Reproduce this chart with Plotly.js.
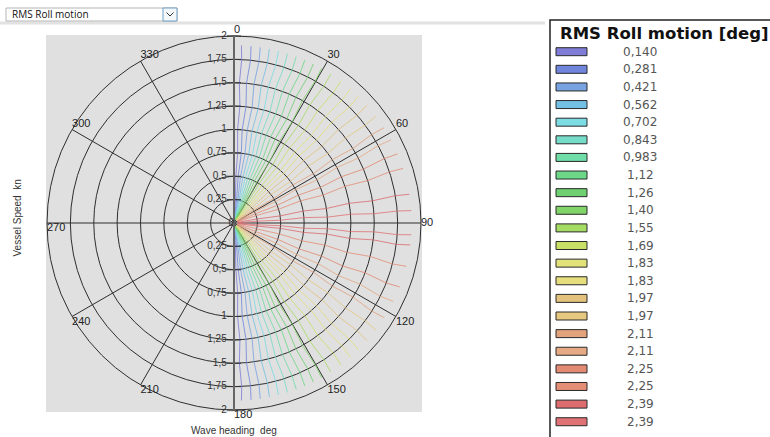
<!DOCTYPE html>
<html><head><meta charset="utf-8">
<script src="https://cdn.plot.ly/plotly-3.0.1.min.js"></script>
<style>html,body{margin:0;padding:0;background:#fff;}#chart{width:770px;height:437px;}</style>
</head><body><div id="chart"></div>
<script>
// ---------- data ----------
const speedGrid = [0.04, 0.25, 0.5, 0.75, 1.0, 1.25, 1.5, 1.75, 1.9];
const radialTicks = [0.25, 0.5, 0.75, 1, 1.25, 1.5, 1.75, 2];
const radialTickText = ['0,25', '0,5', '0,75', '1', '1,25', '1,5', '1,75', '2'];
const headingTicks = [0, 30, 60, 90, 120, 150, 180, 210, 240, 270, 300, 330];
const headingTickText = ['0', '30', '60', '90', '120', '150', '180', '210', '240', '270', '300', '330'];
const headingLabelPos = ['top right', 'top right', 'top right', 'middle right', 'bottom right', 'bottom right',
  'bottom right', 'bottom right', 'bottom right', 'bottom right', 'top right', 'top right'];
const levelLabels = ['0,140', '0,281', '0,421', '0,562', '0,702', '0,843', '0,983', '1,12', '1,26', '1,40', '1,55',
  '1,69', '1,83', '1,83', '1,97', '1,97', '2,11', '2,11', '2,25', '2,25', '2,39', '2,39'];
const levelColors = ['#7e7cd6', '#6f86dc', '#78a2e0', '#74c0e4', '#7cdce4', '#74dcc8', '#70dca8', '#6cd888',
  '#6ed070', '#80d468', '#a6dc64', '#c8e066', '#e2e27a', '#e6de7c', '#e2c27c', '#e6c880', '#e2a27c', '#e6aa84',
  '#e28a72', '#e48e76', '#dc6c70', '#e07276'];

// contour headings (deg) along speedGrid, heading 0-90 side
const hdgU01 = [1.5, 3.4, 2.3, 3.0, 2.2, 2.9, 2.2, 2.7, 2.4];
const hdgU02 = [3.5, 6.4, 5.1, 6.0, 5.0, 5.9, 5.1, 5.8, 5.5];
const hdgU03 = [5.5, 9.4, 8.0, 9.0, 8.1, 8.9, 8.2, 8.8, 8.5];
const hdgU04 = [8.0, 12.4, 11.0, 12.1, 11.1, 11.9, 11.2, 11.8, 11.5];
const hdgU05 = [10.5, 15.4, 14.0, 15.1, 14.1, 14.9, 14.2, 14.8, 14.5];
const hdgU06 = [13.0, 18.4, 17.0, 18.1, 17.1, 17.9, 17.2, 17.8, 17.5];
const hdgU07 = [16.0, 21.4, 20.0, 21.1, 20.1, 20.9, 20.2, 20.8, 20.5];
const hdgU08 = [19.0, 24.4, 23.0, 24.1, 23.1, 23.9, 23.2, 23.8, 23.5];
const hdgU09 = [22.0, 27.4, 26.0, 27.1, 26.1, 26.9, 26.2, 26.8, 26.5];
const hdgU10 = [25.0, 30.4, 29.0, 30.1, 29.1, 29.9, 29.2, 29.8, 29.5];
const hdgU11 = [28.5, 33.9, 32.5, 33.6, 32.6, 33.4, 32.7, 33.3, 33.0];
const hdgU12 = [32.5, 37.9, 36.5, 37.6, 36.6, 37.4, 36.7, 37.3, 37.0];
const hdgU13 = [37.0, 41.9, 40.5, 41.6, 40.6, 41.4, 40.7, 41.3, 41.0];
const hdgU14 = [41.0, 45.4, 44.0, 45.1, 44.1, 44.9, 44.2, 44.8, 44.5];
const hdgU15 = [46.0, 49.4, 48.0, 49.1, 48.1, 48.9, 48.2, 48.8, 48.5];
const hdgU16 = [51.0, 53.9, 52.5, 53.6, 52.6, 53.4, 52.7, 53.3, 53.0];
const hdgU17 = [56.0, 57.0, 58.3, 57.1, 58.1, 57.2, 57.9, 57.3, 57.6];
const hdgU18 = [61.0, 61.5, 62.8, 61.6, 62.6, 61.7, 62.4, 61.8, 62.1];
const hdgU19 = [66.0, 66.5, 67.8, 66.6, 67.6, 66.7, 67.4, 66.8, 67.1];
const hdgU20 = [71.5, 71.5, 72.8, 71.6, 72.6, 71.7, 72.4, 71.8, 72.1];
const hdgU21 = [80.0, 80.0, 81.3, 80.2, 81.1, 80.3, 80.9, 80.4, 80.7];
const hdgU22 = [86.0, 85.5, 86.6, 85.6, 86.4, 85.7, 86.2, 85.8, 86.0];
// heading 90-180 side
const hdgL01 = [178.5, 176.6, 177.7, 177.0, 177.8, 177.1, 177.8, 177.3, 177.6];
const hdgL02 = [176.5, 173.6, 174.9, 174.0, 175.0, 174.1, 174.9, 174.2, 174.5];
const hdgL03 = [174.5, 170.6, 172.0, 171.0, 171.9, 171.1, 171.8, 171.2, 171.5];
const hdgL04 = [172.0, 167.6, 169.0, 167.9, 168.9, 168.1, 168.8, 168.2, 168.5];
const hdgL05 = [169.5, 164.6, 166.0, 164.9, 165.9, 165.1, 165.8, 165.2, 165.5];
const hdgL06 = [167.0, 161.6, 163.0, 161.9, 162.9, 162.1, 162.8, 162.2, 162.5];
const hdgL07 = [164.0, 158.6, 160.0, 158.9, 159.9, 159.1, 159.8, 159.2, 159.5];
const hdgL08 = [161.0, 155.6, 157.0, 155.9, 156.9, 156.1, 156.8, 156.2, 156.5];
const hdgL09 = [158.0, 152.6, 154.0, 152.9, 153.9, 153.1, 153.8, 153.2, 153.5];
const hdgL10 = [155.0, 149.6, 151.0, 149.9, 150.9, 150.1, 150.8, 150.2, 150.5];
const hdgL11 = [151.5, 146.1, 147.5, 146.4, 147.4, 146.6, 147.3, 146.7, 147.0];
const hdgL12 = [147.5, 142.1, 143.5, 142.4, 143.4, 142.6, 143.3, 142.7, 143.0];
const hdgL13 = [143.0, 138.1, 139.5, 138.4, 139.4, 138.6, 139.3, 138.7, 139.0];
const hdgL14 = [139.0, 134.6, 136.0, 134.9, 135.9, 135.1, 135.8, 135.2, 135.5];
const hdgL15 = [134.5, 130.6, 132.0, 130.9, 131.9, 131.1, 131.8, 131.2, 131.5];
const hdgL16 = [129.5, 126.1, 127.5, 126.4, 127.4, 126.6, 127.3, 126.7, 127.0];
const hdgL17 = [123.5, 122.8, 121.6, 122.8, 121.8, 122.7, 121.9, 122.6, 122.2];
const hdgL18 = [117.5, 116.8, 115.6, 116.8, 115.8, 116.7, 115.9, 116.6, 116.2];
const hdgL19 = [112.0, 111.7, 110.5, 111.7, 110.7, 111.6, 110.8, 111.5, 111.1];
const hdgL20 = [105.0, 104.7, 103.5, 104.7, 103.7, 104.6, 103.8, 104.5, 104.1];
const hdgL21 = [98.0, 97.8, 96.6, 97.7, 96.8, 97.6, 96.9, 97.5, 97.1];
const hdgL22 = [94.0, 94.4, 93.3, 94.3, 93.5, 94.2, 93.6, 94.1, 93.8];

const upperContours = [hdgU01, hdgU02, hdgU03, hdgU04, hdgU05, hdgU06, hdgU07, hdgU08, hdgU09, hdgU10, hdgU11,
  hdgU12, hdgU13, hdgU14, hdgU15, hdgU16, hdgU17, hdgU18, hdgU19, hdgU20, hdgU21, hdgU22];
const lowerContours = [hdgL01, hdgL02, hdgL03, hdgL04, hdgL05, hdgL06, hdgL07, hdgL08, hdgL09, hdgL10, hdgL11,
  hdgL12, hdgL13, hdgL14, hdgL15, hdgL16, hdgL17, hdgL18, hdgL19, hdgL20, hdgL21, hdgL22];

// ---------- build ----------
const W = 770, H = 437;
const px = x => x / W, py = y => 1 - y / H;
const FONT = 'Liberation Sans, Arial, sans-serif';
const traces = [];

upperContours.concat(lowerContours).forEach((th, k) => {
  traces.push({
    type: 'scatterpolar', subplot: 'polar', mode: 'lines',
    r: speedGrid, theta: th, opacity: 0.8,
    line: {color: levelColors[k % levelColors.length], width: 1},
    hoverinfo: 'skip', showlegend: false
  });
});

// radial tick marks & labels (upper side on polar, lower side on polar2)
traces.push({
  type: 'scatterpolar', subplot: 'polar', mode: 'markers+text', cliponaxis: false,
  r: radialTicks, theta: radialTicks.map(() => 0), text: radialTickText,
  textposition: 'middle left', textfont: {family: FONT, size: 10, color: radialTicks.map(() => '#333')},
  marker: {symbol: 'line-ew-open', size: 10, line: {color: '#333', width: 1}, color: '#333'},
  hoverinfo: 'skip', showlegend: false
});
traces.push({
  type: 'scatterpolar', subplot: 'polar2', mode: 'markers+text', cliponaxis: false,
  r: radialTicks, theta: radialTicks.map(() => 180), text: radialTickText,
  textposition: 'middle left', textfont: {family: FONT, size: 10, color: radialTicks.map(() => '#333')},
  marker: {symbol: 'line-ew-open', size: 10, line: {color: '#333', width: 1}, color: '#333'},
  hoverinfo: 'skip', showlegend: false
});
traces.push({
  type: 'scatterpolar', subplot: 'polar2', mode: 'text', cliponaxis: false,
  r: [0], theta: [0], text: ['0'], textposition: 'middle left',
  textfont: {family: FONT, size: 10, color: '#333'}, hoverinfo: 'skip', showlegend: false
});
// heading labels at the rim
traces.push({
  type: 'scatterpolar', subplot: 'polar2', mode: 'text', cliponaxis: false,
  r: headingTicks.map(() => 2), theta: headingTicks, text: headingTickText,
  textposition: headingLabelPos, textfont: {family: FONT, size: 11, color: headingTicks.map(() => '#222')},
  hoverinfo: 'skip', showlegend: false
});

const domain = {x: [px(47), px(421)], y: [py(410), py(36)]};
const gridC = '#2e2e2e';

const shapes = [
  // grey plot panel
  {type: 'rect', xref: 'paper', yref: 'paper', x0: px(46), x1: px(422), y0: py(412), y1: py(35),
    fillcolor: '#e0e0e0', line: {width: 0}, layer: 'below'},
  // top toolbar
  {type: 'line', xref: 'paper', yref: 'paper', x0: 0, x1: px(545), y0: py(23), y1: py(23),
    line: {color: '#e2e2e2', width: 3}, layer: 'below'},
  {type: 'rect', xref: 'paper', yref: 'paper', x0: px(6), x1: px(177), y0: py(21), y1: py(8),
    fillcolor: '#ffffff', line: {color: '#b4b4b4', width: 1}},
  {type: 'rect', xref: 'paper', yref: 'paper', x0: px(163), x1: px(177), y0: py(21), y1: py(8),
    fillcolor: '#f4f8fb', line: {color: '#6f9fc4', width: 1}},
  {type: 'path', xref: 'paper', yref: 'paper',
    path: `M ${px(166.5)} ${py(12.5)} L ${px(170)} ${py(16)} L ${px(173.5)} ${py(12.5)}`,
    line: {color: '#333', width: 1}},
  // legend frame (left and top edges)
  {type: 'path', xref: 'paper', yref: 'paper',
    path: `M ${px(550)} ${py(440)} L ${px(550)} ${py(20)} L ${px(772)} ${py(20)}`,
    line: {color: '#222', width: 1.5}}
];

const annotations = [
  {xref: 'paper', yref: 'paper', x: px(10), y: py(14.5), xanchor: 'left', yanchor: 'middle', showarrow: false,
    text: 'RMS Roll motion', font: {family: 'Open Sans, sans-serif', size: 10, color: '#111'}},
  {xref: 'paper', yref: 'paper', x: px(17.5), y: py(218), xanchor: 'center', yanchor: 'middle', showarrow: false,
    textangle: -90, text: 'Vessel Speed  kn', font: {family: FONT, size: 10, color: '#333'}},
  {xref: 'paper', yref: 'paper', x: px(234), y: py(430), xanchor: 'center', yanchor: 'middle', showarrow: false,
    text: 'Wave heading  deg', font: {family: FONT, size: 10, color: '#333'}},
  {xref: 'paper', yref: 'paper', x: px(664), y: py(34), xanchor: 'center', yanchor: 'middle', showarrow: false,
    text: '<b>RMS Roll motion [deg]</b>', font: {family: 'DejaVu Sans, sans-serif', size: 16.5, color: '#111'}}
];

levelLabels.forEach((lab, i) => {
  const yc = 51.7 + i * 17.62;
  shapes.push({type: 'rect', xref: 'paper', yref: 'paper', x0: px(556), x1: px(587), y0: py(yc + 4), y1: py(yc - 4),
    fillcolor: levelColors[i], line: {color: '#2a2a2a', width: 1}});
  annotations.push({xref: 'paper', yref: 'paper', x: px(640), y: py(yc), xanchor: 'center', yanchor: 'middle',
    showarrow: false, text: lab, font: {family: 'DejaVu Sans, sans-serif', size: 12, color: '#555'}});
});

const layout = {
  width: W, height: H, margin: {l: 0, r: 0, t: 0, b: 0},
  paper_bgcolor: '#ffffff', showlegend: false,
  polar: {
    domain: domain, bgcolor: 'rgba(0,0,0,0)',
    angularaxis: {rotation: 90, direction: 'clockwise', tickmode: 'array', tickvals: headingTicks,
      showticklabels: false, ticks: '', showgrid: true, gridcolor: gridC, gridwidth: 1,
      showline: true, linecolor: gridC, linewidth: 1},
    radialaxis: {range: [0, 2], tickmode: 'array', tickvals: radialTicks, showticklabels: false, ticks: '',
      showgrid: true, gridcolor: gridC, gridwidth: 1, showline: true, linecolor: '#666', linewidth: 2, angle: 90}
  },
  polar2: {
    domain: domain, bgcolor: 'rgba(0,0,0,0)',
    angularaxis: {rotation: 90, direction: 'clockwise', showticklabels: false, ticks: '', showgrid: false,
      showline: false},
    radialaxis: {range: [0, 2], showticklabels: false, ticks: '', showgrid: false, showline: true,
      linecolor: '#666', linewidth: 2, angle: 270}
  },
  shapes: shapes, annotations: annotations
};

Plotly.newPlot('chart', traces, layout, {staticPlot: true, displayModeBar: false});
</script></body></html>
